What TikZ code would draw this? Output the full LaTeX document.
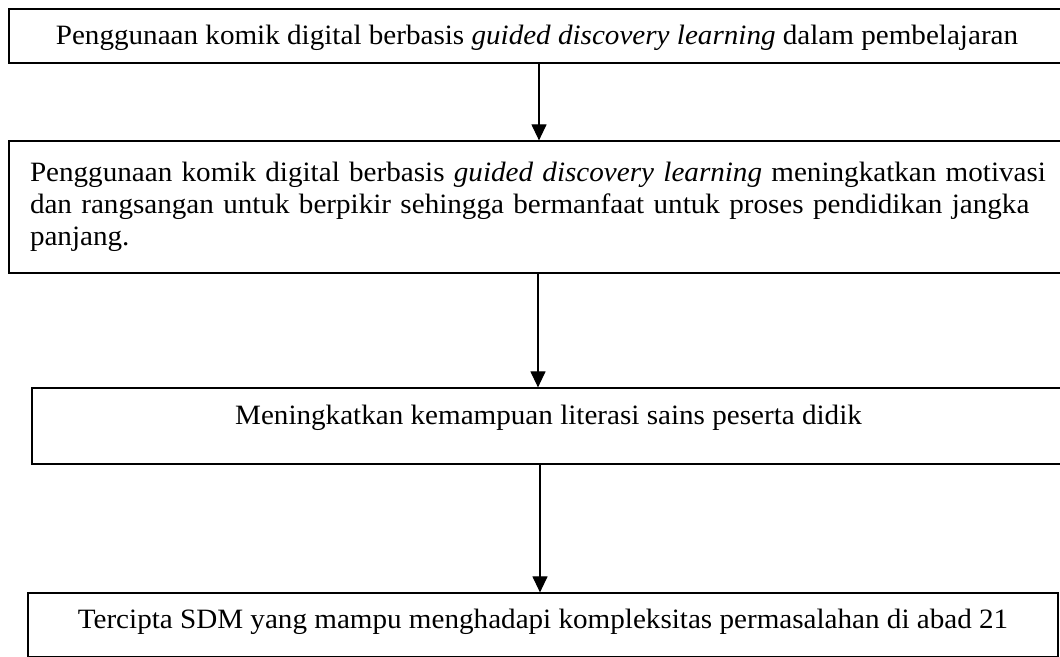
\documentclass[tikz,border=0pt]{standalone}
\usepackage{fontspec}
\setmainfont{Liberation Serif}[FakeStretch=1.04]
\usetikzlibrary{arrows.meta,positioning}
\tikzstyle{kotak} = [rectangle,draw=black,line width=1.2pt,inner xsep=0pt,inner ysep=0pt,align=center]
\tikzstyle{alur} = [-{Triangle[width=15pt,length=16pt]},line width=1.2pt]

\begin{document}
\begin{tikzpicture}[x=1pt,y=1pt,font=\fontsize{28}{32}\selectfont]
\useasboundingbox (0,0) rectangle (1060,656);

\node (blk1) [kotak,minimum width=1056pt,text height=36pt,text depth=18pt] at (537,620) {Penggunaan komik digital berbasis \textit{guided discovery learning} dalam pembelajaran};
\node (blk2) [kotak,minimum height=132pt,text width=1031pt,inner xsep=21pt,align=left] at (545.5,449) {Penggunaan komik digital berbasis \textit{guided discovery learning} meningkatkan motivasi\\dan rangsangan untuk berpikir sehingga bermanfaat untuk proses pendidikan jangka\\panjang.};
\node (blk3) [kotak,minimum width=1033pt,text height=37pt,text depth=39pt] at (548.5,230) {Meningkatkan kemampuan literasi sains peserta didik};
\node (blk4) [kotak,minimum width=1030pt,text height=35pt,text depth=29pt] at (543,31) {Tercipta SDM yang mampu menghadapi kompleksitas permasalahan di abad 21};

\draw[alur] ([xshift=2pt]blk1.south)--([xshift=-6.5pt]blk2.north);
\draw[alur] ([xshift=-7.5pt]blk2.south)--([xshift=-10.5pt]blk3.north);
\draw[alur] ([xshift=-8.5pt]blk3.south)--([xshift=-3pt]blk4.north);

\end{tikzpicture}
\end{document}
